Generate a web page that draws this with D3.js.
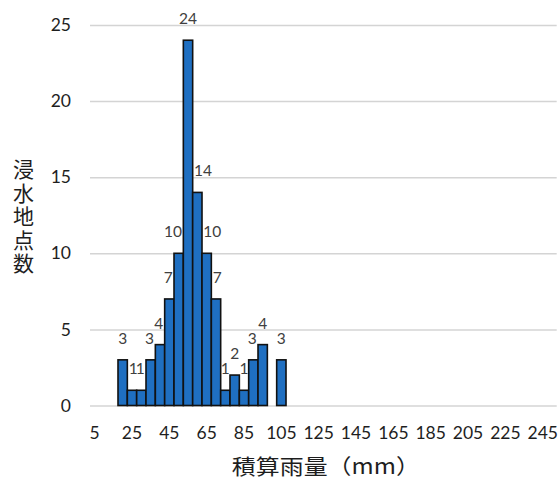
<!DOCTYPE html>
<html>
<head>
<meta charset="utf-8">
<script src="https://cdn.jsdelivr.net/npm/d3@7"></script>
<style>
  html, body { margin: 0; padding: 0; background: #fff; }
  svg { display: block; }
</style>
</head>
<body>
<div id="chart"></div>
<script>
// Rainfall class (mm) for each histogram bin
const categories = [5, 10, 15, 20, 25, 30, 35, 40, 45, 50,
                    55, 60, 65, 70, 75, 80, 85, 90, 95, 100,
                    105, 110, 115, 120, 125, 130, 135, 140, 145, 150,
                    155, 160, 165, 170, 175, 180, 185, 190, 195, 200,
                    205, 210, 215, 220, 225, 230, 235, 240, 245, 250];
// Number of flooded locations in each bin
const counts = [0, 0, 0, 3, 1, 1, 3, 4, 7, 10,
                24, 14, 10, 7, 1, 2, 1, 3, 4, 0,
                3, 0, 0, 0, 0, 0, 0, 0, 0, 0,
                0, 0, 0, 0, 0, 0, 0, 0, 0, 0,
                0, 0, 0, 0, 0, 0, 0, 0, 0, 0];
// Bins that carry an axis label
const xTickLabels = [5, 25, 45, 65, 85, 105, 125, 145, 165, 185, 205, 225, 245];
const yTickLabels = [0, 5, 10, 15, 20, 25];
const yTitle = "浸水地点数";
const xTitle = "積算雨量（mm）";

const W = 560, H = 483;
const plot = { left: 90, right: 556.7, top: 25, bottom: 405.5 };
const numFont = "Lato, 'Liberation Sans', sans-serif";
const cjkFont = "'Noto Sans CJK JP', 'Noto Sans CJK SC', sans-serif";

const svg = d3.select("#chart").append("svg")
  .attr("width", W).attr("height", H);

const x = d3.scaleBand().domain(categories).range([plot.left, plot.right]).padding(0);
const y = d3.scaleLinear().domain([0, 25]).range([plot.bottom, plot.top]);

// Horizontal gridlines
const grid = svg.append("g")
  .attr("transform", `translate(${plot.left},0)`)
  .call(d3.axisLeft(y).tickValues(yTickLabels).tickSize(-(plot.right - plot.left)).tickFormat(""));
grid.select(".domain").remove();
grid.selectAll(".tick line").attr("stroke", "#d4d4d4").attr("stroke-width", 1.5);

// Y axis labels
const yAxis = svg.append("g")
  .attr("transform", `translate(${plot.left},0)`)
  .call(d3.axisLeft(y).tickValues(yTickLabels).tickSize(0).tickPadding(19));
yAxis.select(".domain").remove();
yAxis.selectAll("text")
  .attr("font-family", numFont).attr("font-size", 17.5)
  .attr("fill", "#1e1e1e");

// X axis labels
const xAxis = svg.append("g")
  .attr("transform", `translate(0,${plot.bottom})`)
  .call(d3.axisBottom(x).tickValues(xTickLabels).tickSize(0).tickPadding(21));
xAxis.select(".domain").remove();
xAxis.selectAll("text")
  .attr("font-family", numFont).attr("font-size", 17.5)
  .attr("fill", "#1e1e1e");

// Bars
const data = categories.map((c, i) => ({ c, v: counts[i] })).filter(d => d.v > 0);
svg.append("g").selectAll("rect")
  .data(data).join("rect")
  .attr("x", d => x(d.c))
  .attr("y", d => y(d.v))
  .attr("width", x.bandwidth())
  .attr("height", d => y(0) - y(d.v))
  .attr("fill", "#1f6fc1")
  .attr("stroke", "#111")
  .attr("stroke-width", 1.6);

// Value labels, pushed sideways when they would run into a taller neighbour
const labels = svg.append("g");
const gap = 0.5;
data.forEach(d => {
  const cx = x(d.c) + x.bandwidth() / 2;
  const baseY = y(d.v) - 16;
  const t = labels.append("text")
    .attr("x", cx).attr("y", baseY)
    .attr("text-anchor", "middle")
    .attr("font-family", numFont).attr("font-size", 15.5)
    .attr("fill", "#404040")
    .text(d.v);
  const w = t.node().getComputedTextLength();
  const bottom = baseY + 2;
  let shift = 0;
  const idx = categories.indexOf(d.c);
  const left = counts[idx - 1] || 0, right = counts[idx + 1] || 0;
  if (right > 0 && y(right) < bottom) {
    const edge = x(categories[idx + 1]) - 0.8;
    const over = (cx + w / 2) - (edge - gap);
    if (over > 0) shift -= over;
  }
  if (left > 0 && y(left) < bottom) {
    const edge = x(categories[idx - 1]) + x.bandwidth() + 0.8;
    const over = (edge + gap) - (cx - w / 2);
    if (over > 0) shift += over;
  }
  t.attr("x", cx + shift);
});

// Y title, one character per line
svg.append("g").selectAll("text")
  .data(Array.from(yTitle)).join("text")
  .attr("x", 23.5).attr("y", (ch, i) => 177 + i * 23.6)
  .attr("text-anchor", "middle")
  .attr("font-family", cjkFont).attr("font-size", 21)
  .attr("fill", "#1e1e1e")
  .text(ch => ch);

// X title
svg.append("text")
  .attr("x", (plot.left + plot.right) / 2 + 2.5).attr("y", 474)
  .attr("text-anchor", "middle")
  .attr("font-family", cjkFont).attr("font-size", 21)
  .attr("textLength", 188).attr("lengthAdjust", "spacingAndGlyphs")
  .attr("fill", "#1e1e1e")
  .text(xTitle);
</script>
</body>
</html>
